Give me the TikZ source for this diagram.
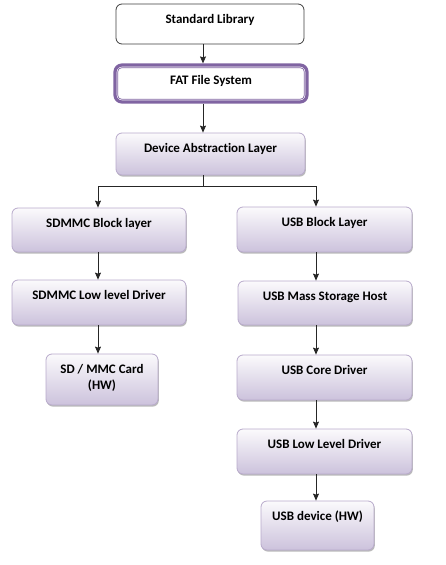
\documentclass[tikz,border=0pt]{standalone}
\usepackage{fontspec}
\setmainfont{Carlito}[Ligatures=NoCommon]
\usepackage{xcolor}
\usepackage{tikz}
\usetikzlibrary{shadows,arrows.meta}

\begin{document}
\begin{tikzpicture}[x=1pt, y=-1pt]
  % Colour definitions
  \definecolor{boxtop}{HTML}{FBFAFC}
  \definecolor{boxbot}{HTML}{CCC2DC}
  \definecolor{boxbdr}{HTML}{B8AACB}
  \definecolor{fatbdr}{HTML}{8064A2}
  \definecolor{libbdr}{HTML}{3F3F3F}

  \tikzstyle{block} = [draw=boxbdr, rounded corners=6pt, top color=boxtop,
    bottom color=boxbot, inner ysep=0pt, text height=19pt, align=center,
    font=\fontsize{13}{16}\selectfont\bfseries, line width=0.8pt,
    drop shadow={shadow xshift=0.8pt, shadow yshift=-1.6pt, fill=black!45,
      opacity=0.6}]
  \tikzstyle{plain} = [draw=libbdr, rounded corners=6pt, fill=white,
    inner ysep=0pt, text height=19pt, align=center,
    font=\fontsize{13}{16}\selectfont\bfseries, line width=0.8pt]
  \tikzstyle{arr} = [-{Stealth[length=7pt, width=6pt, inset=1pt]},
    line width=0.8pt, color=black!85]

  \useasboundingbox (0,0) rectangle (445,565);

  % Column positions of the arrows
  \coordinate (midcol) at (203,186);
  \coordinate (lcol) at (98,186);
  \coordinate (rcol) at (316,186);

  % Top stack
  \node[plain, minimum width=188pt, text depth=21pt] (stdlib) at (210,24)
    {Standard Library};
  \node[plain, draw=fatbdr, line width=3.2pt, rounded corners=7pt,
    minimum width=192pt, text depth=18pt] (fat) at (211,83.5)
    {FAT File System};
  \draw[fatbdr, line width=0.7pt, rounded corners=4pt]
    ([xshift=4.3pt, yshift=-4.3pt]fat.north west)
    rectangle ([xshift=-4.3pt, yshift=4.3pt]fat.south east);
  \node[block, minimum width=189pt, text depth=23pt] (dal) at (210.5,154)
    {Device Abstraction Layer};

  % SDMMC branch
  \node[block, minimum width=174pt, text depth=25pt] (sdblk) at (99,230)
    {SDMMC Block layer};
  \node[block, minimum width=174pt, text depth=26pt] (sdlow) at (99,302.5)
    {SDMMC Low level Driver};
  \node[block, minimum width=112pt, text depth=32pt] (sdcard) at (102,379.5)
    {\begin{tabular}[t]{@{}c@{}}SD / MMC Card\\(HW)\end{tabular}};

  % USB branch
  \node[block, minimum width=175pt, text depth=26pt] (usbblk) at (324.5,229.5)
    {USB Block Layer};
  \node[block, minimum width=174pt, text depth=25pt] (usbmsh) at (325,303)
    {USB Mass Storage Host};
  \node[block, minimum width=175pt, text depth=26pt] (usbcore) at (324.5,377.5)
    {USB Core Driver};
  \node[block, minimum width=175pt, text depth=26pt] (usblow) at (324.5,451.5)
    {USB Low Level Driver};
  \node[block, minimum width=113pt, text depth=30pt] (usbdev) at (317.5,525.5)
    {USB device (HW)};

  % Arrows
  \draw[arr] (stdlib.south -| midcol) -- (fat.north -| midcol);
  \draw[arr] (fat.south -| midcol) -- (dal.north -| midcol);
  \draw[arr] (dal.south -| midcol) -- (midcol) -| (sdblk.north -| lcol);
  \draw[arr] (midcol) -| (usbblk.north -| rcol);
  \draw[arr] (sdblk.south -| lcol) -- (sdlow.north -| lcol);
  \draw[arr] (sdlow.south -| lcol) -- (sdcard.north -| lcol);
  \draw[arr] (usbblk.south -| rcol) -- (usbmsh.north -| rcol);
  \draw[arr] (usbmsh.south -| rcol) -- (usbcore.north -| rcol);
  \draw[arr] (usbcore.south -| rcol) -- (usblow.north -| rcol);
  \draw[arr] (usblow.south -| rcol) -- (usbdev.north -| rcol);
\end{tikzpicture}
\end{document}
